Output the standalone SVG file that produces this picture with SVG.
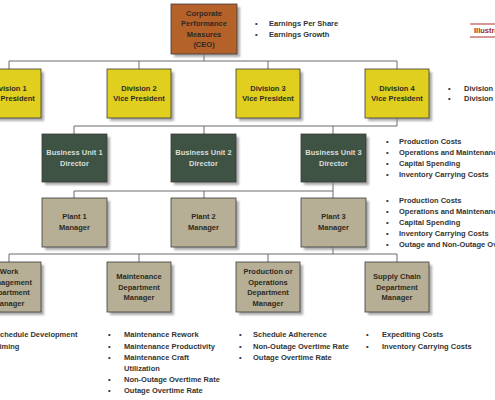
<svg xmlns="http://www.w3.org/2000/svg" width="495" height="400" viewBox="0 0 495 400">
<defs>
<filter id="sh" x="-20%" y="-20%" width="150%" height="150%">
<feGaussianBlur stdDeviation="1"/>
</filter>
</defs>
<style>
text{font-family:"Liberation Sans",Arial,sans-serif;font-weight:bold;font-size:7.5px}
.box{stroke:#3a3a3a;stroke-width:0.8}
.shadow{fill:#8a8a8a;opacity:0.7;filter:url(#sh)}
.ceo{fill:#B5612A}
.div{fill:#E0CF1E}
.bu{fill:#3E5344}
.pl{fill:#B6AF96}
.c{text-anchor:middle}
.dk{fill:#2e2a22}
.lt{fill:#d8ddd8}
.bt{fill:#333333}
.conn line{stroke:#6a6a6a;stroke-width:1}
</style>
<rect width="495" height="400" fill="#ffffff"/>

<g class="conn">
<line x1="204" y1="54" x2="204" y2="61"/>
<line x1="9" y1="61" x2="397" y2="61"/>
<line x1="9" y1="61" x2="9" y2="69"/>
<line x1="139" y1="61" x2="139" y2="69"/>
<line x1="268" y1="61" x2="268" y2="69"/>
<line x1="397" y1="61" x2="397" y2="69"/>
<line x1="397" y1="118" x2="397" y2="126"/>
<line x1="74" y1="126" x2="397" y2="126"/>
<line x1="74" y1="126" x2="74" y2="134"/>
<line x1="204" y1="126" x2="204" y2="134"/>
<line x1="333" y1="126" x2="333" y2="134"/>
<line x1="333" y1="182" x2="333" y2="191"/>
<line x1="74" y1="191" x2="333" y2="191"/>
<line x1="74" y1="191" x2="74" y2="198"/>
<line x1="204" y1="191" x2="204" y2="198"/>
<line x1="333" y1="191" x2="333" y2="198"/>
<line x1="333" y1="247" x2="333" y2="254"/>
<line x1="9" y1="254" x2="397" y2="254"/>
<line x1="9" y1="254" x2="9" y2="262"/>
<line x1="139" y1="254" x2="139" y2="262"/>
<line x1="268" y1="254" x2="268" y2="262"/>
<line x1="397" y1="254" x2="397" y2="262"/>
</g>

<g id="ceo">
<rect class="shadow" x="174" y="7" width="66" height="50"/>
<rect class="box ceo" x="171" y="4" width="66" height="50"/>
<text class="c dk" x="204" y="15.5">Corporate</text>
<text class="c dk" x="204" y="26">Performance</text>
<text class="c dk" x="204" y="36.5">Measures</text>
<text class="c dk" x="204" y="47">(CEO)</text>
</g>

<g id="div1">
<rect class="shadow" x="-20" y="72" width="64" height="49"/>
<rect class="box div" x="-23" y="69" width="64" height="49"/>
<text class="c dk" x="9" y="91">Division 1</text>
<text class="c dk" x="9" y="101">Vice President</text>
</g>
<g id="div2">
<rect class="shadow" x="110" y="72" width="64" height="49"/>
<rect class="box div" x="107" y="69" width="64" height="49"/>
<text class="c dk" x="139" y="91">Division 2</text>
<text class="c dk" x="139" y="101">Vice President</text>
</g>
<g id="div3">
<rect class="shadow" x="239" y="72" width="64" height="49"/>
<rect class="box div" x="236" y="69" width="64" height="49"/>
<text class="c dk" x="268" y="91">Division 3</text>
<text class="c dk" x="268" y="101">Vice President</text>
</g>
<g id="div4">
<rect class="shadow" x="368" y="72" width="64" height="49"/>
<rect class="box div" x="365" y="69" width="64" height="49"/>
<text class="c dk" x="397" y="91">Division 4</text>
<text class="c dk" x="397" y="101">Vice President</text>
</g>

<g id="bu1">
<rect class="shadow" x="45" y="137" width="65" height="48"/>
<rect class="box bu" x="42" y="134" width="65" height="48"/>
<text class="c lt" x="74.5" y="155">Business Unit 1</text>
<text class="c lt" x="74.5" y="166">Director</text>
</g>
<g id="bu2">
<rect class="shadow" x="174" y="137" width="65" height="48"/>
<rect class="box bu" x="171" y="134" width="65" height="48"/>
<text class="c lt" x="203.5" y="155">Business Unit 2</text>
<text class="c lt" x="203.5" y="166">Director</text>
</g>
<g id="bu3">
<rect class="shadow" x="304" y="137" width="65" height="48"/>
<rect class="box bu" x="301" y="134" width="65" height="48"/>
<text class="c lt" x="333.5" y="155">Business Unit 3</text>
<text class="c lt" x="333.5" y="166">Director</text>
</g>

<g id="plant1">
<rect class="shadow" x="45" y="201" width="65" height="49"/>
<rect class="box pl" x="42" y="198" width="65" height="49"/>
<text class="c dk" x="74.5" y="219">Plant 1</text>
<text class="c dk" x="74.5" y="229.5">Manager</text>
</g>
<g id="plant2">
<rect class="shadow" x="174" y="201" width="65" height="49"/>
<rect class="box pl" x="171" y="198" width="65" height="49"/>
<text class="c dk" x="203.5" y="219">Plant 2</text>
<text class="c dk" x="203.5" y="229.5">Manager</text>
</g>
<g id="plant3">
<rect class="shadow" x="304" y="201" width="65" height="49"/>
<rect class="box pl" x="301" y="198" width="65" height="49"/>
<text class="c dk" x="333.5" y="219">Plant 3</text>
<text class="c dk" x="333.5" y="229.5">Manager</text>
</g>

<g id="work">
<rect class="shadow" x="-20" y="265" width="64" height="50"/>
<rect class="box pl" x="-23" y="262" width="64" height="50"/>
<text class="c dk" x="9" y="274">Work</text>
<text class="c dk" x="9" y="284.5">Management</text>
<text class="c dk" x="9" y="295">Department</text>
<text class="c dk" x="9" y="305.5">Manager</text>
</g>
<g id="maint">
<rect class="shadow" x="110" y="265" width="64" height="50"/>
<rect class="box pl" x="107" y="262" width="64" height="50"/>
<text class="c dk" x="139" y="279">Maintenance</text>
<text class="c dk" x="139" y="289.5">Department</text>
<text class="c dk" x="139" y="300">Manager</text>
</g>
<g id="prod">
<rect class="shadow" x="239" y="265" width="64" height="50"/>
<rect class="box pl" x="236" y="262" width="64" height="50"/>
<text class="c dk" x="268" y="274">Production or</text>
<text class="c dk" x="268" y="284.5">Operations</text>
<text class="c dk" x="268" y="295">Department</text>
<text class="c dk" x="268" y="305.5">Manager</text>
</g>
<g id="supply">
<rect class="shadow" x="368" y="265" width="64" height="50"/>
<rect class="box pl" x="365" y="262" width="64" height="50"/>
<text class="c dk" x="397" y="279">Supply Chain</text>
<text class="c dk" x="397" y="289.5">Department</text>
<text class="c dk" x="397" y="300">Manager</text>
</g>

<g id="ceo-measures" class="bt">
<text class="bt" x="255" y="25.5">•</text><text class="bt" x="269" y="25.5">Earnings Per Share</text>
<text class="bt" x="255" y="36.5">•</text><text class="bt" x="269" y="36.5">Earnings Growth</text>
</g>

<g id="illustrative">
<line x1="470" y1="24" x2="495" y2="24" stroke="#B03030" stroke-width="1"/>
<line x1="470" y1="37" x2="495" y2="37" stroke="#B03030" stroke-width="1"/>
<text x="474" y="33" fill="#A02828">Illustrative</text>
</g>

<g id="div4-measures">
<text class="bt" x="448" y="91">•</text><text class="bt" x="464" y="91">Division</text>
<text class="bt" x="448" y="101">•</text><text class="bt" x="464" y="101">Division</text>
</g>

<g id="bu3-measures">
<text class="bt" x="386" y="144">•</text><text class="bt" x="399" y="144">Production Costs</text>
<text class="bt" x="386" y="155">•</text><text class="bt" x="399" y="155">Operations and Maintenance</text>
<text class="bt" x="386" y="166">•</text><text class="bt" x="399" y="166">Capital Spending</text>
<text class="bt" x="386" y="177">•</text><text class="bt" x="399" y="177">Inventory Carrying Costs</text>
</g>

<g id="plant3-measures">
<text class="bt" x="386" y="203">•</text><text class="bt" x="399" y="203">Production Costs</text>
<text class="bt" x="386" y="214">•</text><text class="bt" x="399" y="214">Operations and Maintenance</text>
<text class="bt" x="386" y="225">•</text><text class="bt" x="399" y="225">Capital Spending</text>
<text class="bt" x="386" y="236">•</text><text class="bt" x="399" y="236">Inventory Carrying Costs</text>
<text class="bt" x="386" y="247">•</text><text class="bt" x="399" y="247">Outage and Non-Outage Overtime</text>
</g>

<g id="work-measures">
<text class="bt" x="-20" y="337">•</text><text class="bt" x="-5" y="337">Schedule Development</text>
<text class="bt" x="-20" y="348.5">•</text><text class="bt" x="-5" y="348.5">Timing</text>
</g>

<g id="maint-measures">
<text class="bt" x="108" y="337">•</text><text class="bt" x="124" y="337">Maintenance Rework</text>
<text class="bt" x="108" y="348.5">•</text><text class="bt" x="124" y="348.5">Maintenance Productivity</text>
<text class="bt" x="108" y="359.5">•</text><text class="bt" x="124" y="359.5">Maintenance Craft</text>
<text class="bt" x="124" y="370.5">Utilization</text>
<text class="bt" x="108" y="381.5">•</text><text class="bt" x="124" y="381.5">Non-Outage Overtime Rate</text>
<text class="bt" x="108" y="392.5">•</text><text class="bt" x="124" y="392.5">Outage Overtime Rate</text>
</g>

<g id="prod-measures">
<text class="bt" x="239" y="337">•</text><text class="bt" x="253" y="337">Schedule Adherence</text>
<text class="bt" x="239" y="348.5">•</text><text class="bt" x="253" y="348.5">Non-Outage Overtime Rate</text>
<text class="bt" x="239" y="359.5">•</text><text class="bt" x="253" y="359.5">Outage Overtime Rate</text>
</g>

<g id="supply-measures">
<text class="bt" x="366" y="337">•</text><text class="bt" x="382" y="337">Expediting Costs</text>
<text class="bt" x="366" y="348.5">•</text><text class="bt" x="382" y="348.5">Inventory Carrying Costs</text>
</g>
</svg>
